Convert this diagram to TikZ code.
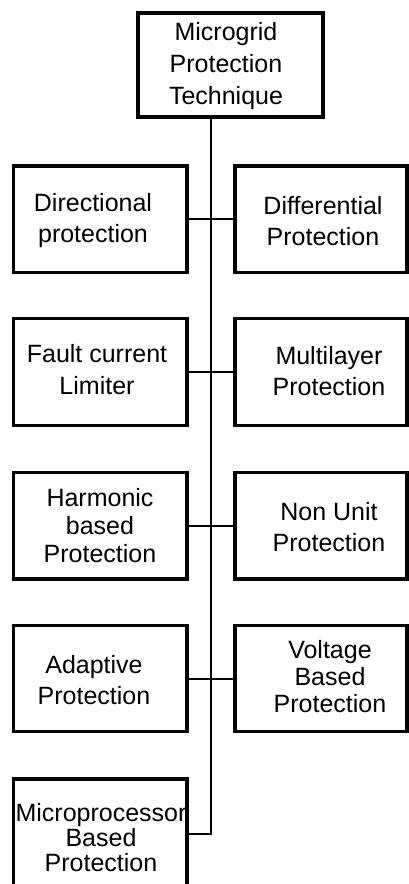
\documentclass[tikz,border=0pt]{standalone}
\usepackage{fontspec}
\setmainfont{Liberation Sans}
\begin{document}
\begin{tikzpicture}[x=1pt,y=-1pt,
  box/.style={draw=black, line width=3.3pt, inner sep=0pt, minimum width=#1, minimum height=106.5pt},
  box/.default=173.5pt,
  lbl/.style={inner sep=0pt, align=center, font=\fontsize{25pt}{#1}\selectfont},
  lbl/.default=31pt,
  conn/.style={draw=black, line width=2pt}]
\useasboundingbox (0,0) rectangle (409,884);
% boxes
\node[box=185pt, minimum height=104pt] (top) at (230.5,65) {};
\node[box] (dir) at (100.25,219.25) {};
\node[box=172pt] (dif) at (321,219.25) {};
\node[box] (fcl) at (100.25,372) {};
\node[box=172pt] (mul) at (321,372) {};
\node[box] (har) at (100.25,525.75) {};
\node[box=172pt] (nun) at (321,525.75) {};
\node[box] (ada) at (100.25,678.5) {};
\node[box=172pt] (vol) at (321,678.5) {};
\node[box, minimum height=109pt] (mic) at (100.25,833.5) {};
% texts
\node[lbl=32pt] (ttop) at (226,66) {Microgrid\\Protection\\Technique};
\node[lbl] (tdir) at (93,221) {Directional\\protection};
\node[lbl] (tdif) at (323,221) {Differential\\Protection};
\node[lbl=32pt] (tfcl) at (97,370) {Fault current\\Limiter};
\node[lbl] (tmul) at (329,371) {Multilayer\\Protection};
\node[lbl=28pt] (thar) at (100,526) {Harmonic\\based\\Protection};
\node[lbl] (tnun) at (329,527) {Non Unit\\Protection};
\node[lbl] (tada) at (94,680) {Adaptive\\Protection};
\node[lbl=27pt] (tvol) at (330,677) {Voltage\\Based\\Protection};
\node[lbl=25pt] (tmic) at (101,838) {Microprocessor\\Based\\Protection};
% connectors
\coordinate (tk) at (210.7,0);
\draw[conn] (top.south -| tk) |- (mic.east);
\draw[conn] (dir.east) -- (dif.west);
\draw[conn] (fcl.east) -- (mul.west);
\draw[conn] (har.east) -- (nun.west);
\draw[conn] (ada.east) -- (vol.west);
\end{tikzpicture}
\end{document}
